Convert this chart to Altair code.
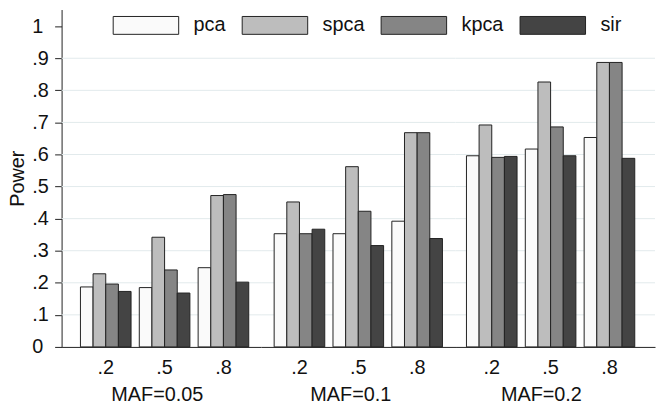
import altair as alt
import pandas as pd

methods = ["pca", "spca", "kpca", "sir"]
mafs = ["MAF=0.05", "MAF=0.1", "MAF=0.2"]
props = [".2", ".5", ".8"]

# values in order: MAF=0.05 (.2,.5,.8), MAF=0.1 (.2,.5,.8), MAF=0.2 (.2,.5,.8)
pca = [0.187, 0.185, 0.247, 0.353, 0.353, 0.392, 0.596, 0.617, 0.653]
spca = [0.228, 0.342, 0.472, 0.452, 0.562, 0.668, 0.692, 0.826, 0.887]
kpca = [0.196, 0.240, 0.475, 0.353, 0.423, 0.668, 0.591, 0.686, 0.887]
sir = [0.173, 0.168, 0.202, 0.367, 0.316, 0.338, 0.594, 0.596, 0.588]

fills = ["#fafafa", "#bdbdbd", "#858585", "#444444"]
ticks_y = [0, 0.1, 0.2, 0.3, 0.4, 0.5, 0.6, 0.7, 0.8, 0.9, 1.0]
grid_y = [0.1, 0.2, 0.3, 0.4, 0.5, 0.6, 0.7, 0.8, 0.9]

series = {"pca": pca, "spca": spca, "kpca": kpca, "sir": sir}

FONT = "Liberation Sans"
GRID = "#e2eaec"

panel_w = [201, 196, 201]
pad_outer = [0.2648, 0.2226, 0.2648]
aligns = [0.605, 0.5, 0.35]
title_x = [96, 90, 86]

yscale = alt.Scale(domain=[0, 1.052], nice=False, zero=True)
grid_df = pd.DataFrame({"g": grid_y})


def panel(gi):
    rows = []
    for pi, p in enumerate(props):
        for m in methods:
            rows.append({"p": p, "method": m, "power": series[m][gi * 3 + pi]})
    df = pd.DataFrame(rows)

    if gi == 0:
        yaxis = alt.Axis(
            values=ticks_y,
            labelExpr="datum.value == 0 ? '0' : datum.value == 1 ? '1' : replace(format(datum.value, '.1f'), '0.', '.')",
            labelAlign="left",
            labelPadding=23,
            tickSize=7,
            tickColor="#222",
            domain=True,
            domainColor="#222",
            labelFontSize=20,
            labelColor="#111",
            grid=False,
            title="Power",
            titleFontSize=20,
            titleFontWeight="normal",
            titleColor="#111",
            titlePadding=4,
        )
        legend = alt.Legend(
            orient="none",
            legendX=75,
            legendY=6,
            direction="horizontal",
            columns=4,
            title=None,
            padding=0,
            symbolType="M-6.6,-1.8L6.6,-1.8L6.6,1.8L-6.6,1.8Z",
            symbolSize=100,
            symbolStrokeColor="#222",
            symbolStrokeWidth=1,
            symbolOpacity=1,
            labelFontSize=20,
            labelColor="#111",
            labelOffset=38,
            columnPadding=14,
        )
    else:
        yaxis = None
        legend = None

    grid = (
        alt.Chart(grid_df)
        .mark_rule(color=GRID, strokeWidth=1)
        .encode(y=alt.Y("g:Q", scale=yscale, axis=yaxis))
    )

    bars = (
        alt.Chart(df)
        .mark_bar(stroke="#222", strokeWidth=1)
        .encode(
            x=alt.X(
                "p:N",
                sort=props,
                scale=alt.Scale(paddingInner=0.14, paddingOuter=pad_outer[gi], align=aligns[gi]),
                axis=alt.Axis(
                    title=mafs[gi],
                    labelAngle=0,
                    grid=False,
                    ticks=False,
                    tickSize=0,
                    domain=True,
                    domainColor="#222",
                    labelFontSize=20,
                    labelColor="#111",
                    labelPadding=11,
                    titleFontSize=20,
                    titleFontWeight="normal",
                    titleColor="#111",
                    titlePadding=7,
                    titleX=title_x[gi],
                    titleAlign="center",
                ),
            ),
            xOffset=alt.XOffset("method:N", sort=methods, scale=alt.Scale(paddingInner=0, paddingOuter=0)),
            y=alt.Y("power:Q", scale=yscale, axis=yaxis),
            color=alt.Color(
                "method:N",
                sort=methods,
                scale=alt.Scale(domain=methods, range=fills),
                legend=legend,
            ),
        )
    )

    return alt.layer(grid, bars).properties(
        width=panel_w[gi],
        height=340,
        view=alt.ViewBackground(stroke="transparent", strokeWidth=0, strokeOpacity=0),
    )


chart = (
    alt.hconcat(panel(0), panel(1), panel(2), spacing=0, bounds="flush")
    .resolve_legend(color="independent")
    .properties(padding={"left": 0, "top": 0, "right": 0, "bottom": 0})
    .configure_view(stroke=None, strokeWidth=0, fill=None)
    .configure_axis(domain=False, grid=False)
    .configure(font=FONT)
)

chart.save("out.html", embed_options={"renderer": "svg", "actions": False})
